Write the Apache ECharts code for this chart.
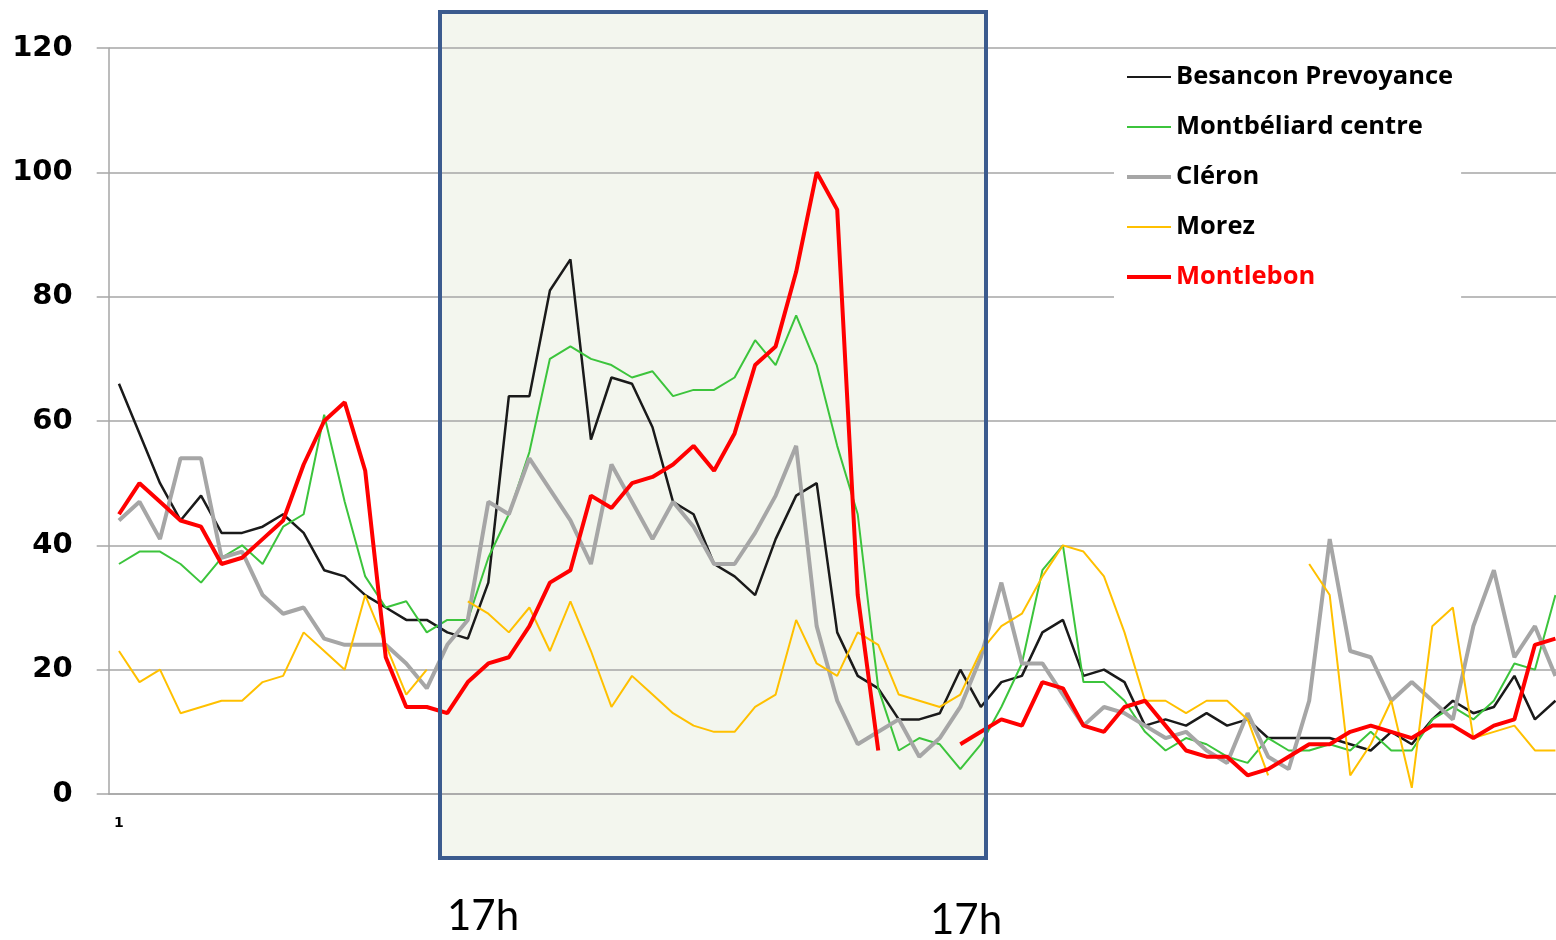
<!DOCTYPE html>
<html>
<head>
<meta charset="utf-8">
<script src="https://cdn.jsdelivr.net/npm/echarts@6/dist/echarts.min.js"></script>
<style>
  html, body { margin: 0; padding: 0; background: #fff; }
  #chart { width: 1556px; height: 940px; }
</style>
</head>
<body>
<div id="chart"></div>
<script>
// categories 1..71 (only the first one is labelled)
var categories = [];
for (var i = 1; i <= 71; i++) categories.push(String(i));

var seriesNames = ['Besancon Prevoyance', 'Montbéliard centre', 'Cléron', 'Morez', 'Montlebon'];

var besancon = [66, 58, 50, 44, 48, 42, 42, 43, 45, 42,
  36, 35, 32, 30, 28, 28, 26, 25, 34, 64,
  64, 81, 86, 57, 67, 66, 59, 47, 45, 37,
  35, 32, 41, 48, 50, 26, 19, 17, 12, 12,
  13, 20, 14, 18, 19, 26, 28, 19, 20, 18,
  11, 12, 11, 13, 11, 12, 9, 9, 9, 9,
  8, 7, 10, 8, 12, 15, 13, 14, 19, 12, 15];

var montbeliard = [37, 39, 39, 37, 34, 38, 40, 37, 43, 45,
  61, 47, 35, 30, 31, 26, 28, 28, 38, 45,
  55, 70, 72, 70, 69, 67, 68, 64, 65, 65,
  67, 73, 69, 77, 69, 56, 45, 17, 7, 9,
  8, 4, 8, 14, 21, 36, 40, 18, 18, 15,
  10, 7, 9, 8, 6, 5, 9, 7, 7, 8,
  7, 10, 7, 7, 12, 14, 12, 15, 21, 20, 32];

var cleron = [44, 47, 41, 54, 54, 38, 39, 32, 29, 30,
  25, 24, 24, 24, 21, 17, 24, 28, 47, 45,
  54, 49, 44, 37, 53, 47, 41, 47, 43, 37,
  37, 42, 48, 56, 27, 15, 8, 10, 12, 6,
  9, 14, 22, 34, 21, 21, 16, 11, 14, 13,
  11, 9, 10, 7, 5, 13, 6, 4, 15, 41,
  23, 22, 15, 18, 15, 12, 27, 36, 22, 27, 19];

var morez = [23, 18, 20, 13, 14, 15, 15, 18, 19, 26,
  23, 20, 32, 24, 16, 20, null, 31, 29, 26,
  30, 23, 31, 23, 14, 19, 16, 13, 11, 10,
  10, 14, 16, 28, 21, 19, 26, 24, 16, 15,
  14, 16, 23, 27, 29, 35, 40, 39, 35, 26,
  15, 15, 13, 15, 15, 12, 3, null, 37, 32,
  3, 8, 15, 1, 27, 30, 9, 10, 11, 7, 7];

var montlebon = [45, 50, 47, 44, 43, 37, 38, 41, 44, 53,
  60, 63, 52, 22, 14, 14, 13, 18, 21, 22,
  27, 34, 36, 48, 46, 50, 51, 53, 56, 52,
  58, 69, 72, 84, 100, 94, 32, 7, null, null,
  null, 8, 10, 12, 11, 18, 17, 11, 10, 14,
  15, 11, 7, 6, 6, 3, 4, 6, 8, 8,
  10, 11, 10, 9, 11, 11, 9, 11, 12, 24, 25];

var allData = [besancon, montbeliard, cleron, morez, montlebon];
var colors = ['#1a1a1a', '#3cc43c', '#a6a6a6', '#ffc000', '#ff0000'];
var widths = [2.5, 2, 4, 2, 4];

var chart = echarts.init(document.getElementById('chart'));

var series = seriesNames.map(function (name, i) {
  return {
    name: name,
    type: 'line',
    data: allData[i],
    symbol: 'none',
    connectNulls: false,
    z: 3 + i,
    lineStyle: { color: colors[i], width: widths[i] },
    itemStyle: { color: colors[i] }
  };
});

var option = {
  animation: false,
  backgroundColor: '#fff',
  grid: { left: 108.7, top: 48, width: 1457, bottom: 146, outerBoundsMode: 'none' },
  legend: {
    orient: 'vertical',
    left: 1114,
    top: 57,
    padding: [7, 8, 14, 11],
    backgroundColor: '#fff',
    itemWidth: 44,
    itemHeight: 4,
    itemGap: 24,
    itemStyle: { opacity: 0 },
    textStyle: { fontFamily: 'Open Sans', fontWeight: 'bold', fontSize: 25.5, color: '#000', lineHeight: 25 },
    data: seriesNames.map(function (n, i) {
      var item = { name: n, lineStyle: { width: widths[i] === 2.5 ? 2 : widths[i] } };
      if (n === 'Montlebon') item.textStyle = { color: '#ff0000' };
      return item;
    })
  },
  xAxis: {
    type: 'category',
    data: categories,
    boundaryGap: true,
    axisLine: { show: true, lineStyle: { color: '#a6a6a6', width: 1.5 } },
    axisTick: { show: false },
    axisLabel: {
      interval: function (idx) { return idx === 0; },
      fontFamily: 'DejaVu Sans', fontWeight: 'bold', fontSize: 14, color: '#000', margin: 22
    },
    splitLine: { show: false }
  },
  yAxis: {
    type: 'value',
    min: 0, max: 120, interval: 20,
    axisLine: { show: true, lineStyle: { color: '#a6a6a6', width: 1.5 } },
    axisTick: { show: true, length: 12, lineStyle: { color: '#a6a6a6', width: 1.5 } },
    axisLabel: { fontFamily: 'DejaVu Sans', fontWeight: 'bold', fontSize: 29, color: '#000', margin: 36 },
    splitLine: { show: true, lineStyle: { color: '#a6a6a6', width: 1.5 } }
  },
  graphic: [
    { type: 'rect', z: -10, silent: true,
      shape: { x: 440, y: 12, width: 546, height: 846 },
      style: { fill: '#f3f6ee' } },
    { type: 'rect', z: 100, silent: true,
      shape: { x: 440, y: 12, width: 546, height: 846 },
      style: { fill: null, stroke: '#3b5b8e', lineWidth: 4 } },
    { type: 'text', z: 100, left: 447, top: 895,
      style: { text: '17h', fontFamily: 'Lato', fontSize: 42, fill: '#000' } },
    { type: 'text', z: 100, left: 930, top: 899,
      style: { text: '17h', fontFamily: 'Lato', fontSize: 42, fill: '#000' } }
  ],
  series: series
};

chart.setOption(option);
</script>
</body>
</html>
